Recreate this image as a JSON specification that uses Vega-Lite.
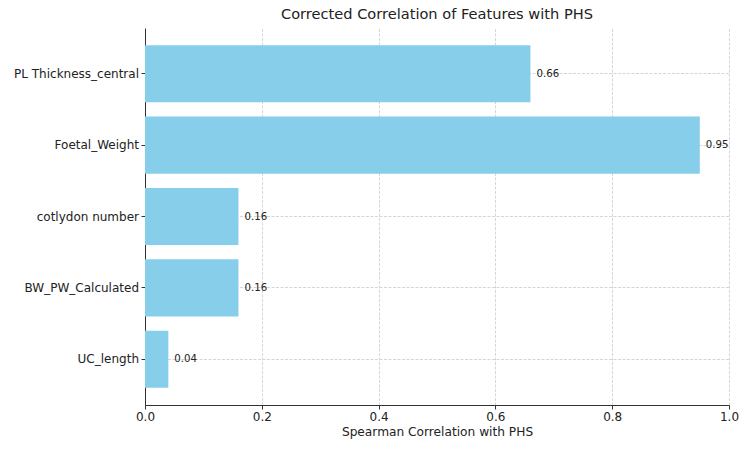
{
  "$schema": "https://vega.github.io/schema/vega-lite/v6.json",
  "width": 584,
  "height": 377,
  "autosize": {"type": "none"},
  "padding": {"left": 145, "top": 28, "right": 21, "bottom": 45},
  "background": "white",
  "config": {
    "font": "DejaVu Sans",
    "view": {"stroke": null},
    "axis": {
      "domainColor": "#333333",
      "domainWidth": 1,
      "tickColor": "#333333",
      "tickSize": 4,
      "tickWidth": 1,
      "labelFont": "DejaVu Sans",
      "labelFontSize": 12,
      "labelColor": "#222222",
      "labelPadding": 2.5,
      "labelFlush": false,
      "titleFont": "DejaVu Sans",
      "titleFontSize": 12.2,
      "titleFontWeight": "normal",
      "titleColor": "#222222",
      "gridColor": "#cccccc",
      "gridDash": [3, 1.5],
      "gridWidth": 0.8,
      "zindex": 1
    }
  },
  "title": {
    "text": "Corrected Correlation of Features with PHS",
    "font": "DejaVu Sans",
    "fontSize": 14.6,
    "fontWeight": "normal",
    "color": "#222222",
    "offset": 6
  },
  "data": {
    "values": [
      {"feature": "PL Thickness_central", "corr": 0.66},
      {"feature": "Foetal_Weight", "corr": 0.95},
      {"feature": "cotlydon number", "corr": 0.16},
      {"feature": "BW_PW_Calculated", "corr": 0.16},
      {"feature": "UC_length", "corr": 0.04}
    ]
  },
  "encoding": {
    "y": {
      "field": "feature",
      "type": "nominal",
      "sort": null,
      "scale": {"paddingInner": 0.2, "paddingOuter": 0.24},
      "axis": {"title": null, "grid": true, "bandPosition": 0.5}
    },
    "x": {
      "field": "corr",
      "type": "quantitative",
      "scale": {"domain": [0, 1], "nice": false},
      "axis": {
        "title": "Spearman Correlation with PHS",
        "values": [0, 0.2, 0.4, 0.6, 0.8, 1.0],
        "format": ".1f",
        "grid": true,
        "titlePadding": 3
      }
    }
  },
  "layer": [
    {"mark": {"type": "bar", "color": "#87CEEB"}},
    {
      "mark": {"type": "text", "align": "left", "baseline": "middle", "dx": 6, "fontSize": 10.2, "color": "#222222", "font": "DejaVu Sans"},
      "encoding": {"text": {"field": "corr", "type": "quantitative", "format": ".2f"}}
    }
  ]
}
